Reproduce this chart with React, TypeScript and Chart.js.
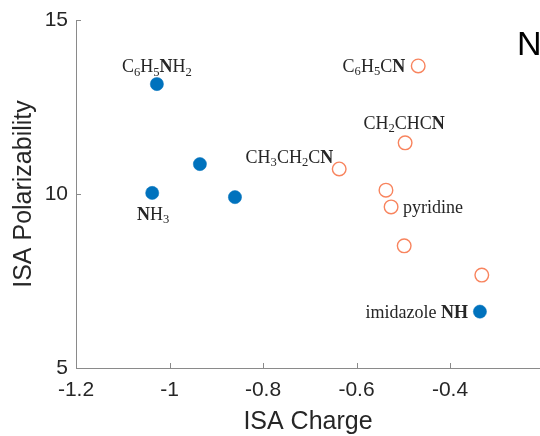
import { useEffect, useRef } from "react";
import { Chart, registerables } from "chart.js";

Chart.register(...registerables);

// Amine-type nitrogens (filled markers)
const amineCharge = [-1.027, -0.935, -1.037, -0.86, -0.336];
const aminePolar = [13.16, 10.86, 10.03, 9.91, 6.62];
const amineLabels = ["C_6H_5*N*H_2", "", "*N*H_3", "", "imidazole *NH*"];

// Nitrile / aromatic nitrogens (open markers)
const nitrileCharge = [-0.468, -0.496, -0.637, -0.537, -0.526, -0.498, -0.332];
const nitrilePolar = [13.68, 11.47, 10.72, 10.11, 9.63, 8.51, 7.67];
const nitrileLabels = ["C_6H_5C*N*", "CH_2CHC*N*", "CH_3CH_2C*N*", "", "pyridine", "", ""];

const xTicks = [-1.2, -1, -0.8, -0.6, -0.4];
const yTicks = [5, 10, 15];
const xRange = [-1.2, -0.2075];
const yRange = [5, 15];

const xTitle = "ISA Charge";
const yTitle = "ISA Polarizability";
const panelTag = "N";

// Where each annotation sits relative to its marker (pixels)
type Placement = { dx: number; dy: number; align: "left" | "center" | "right" };
const placements: Record<string, Placement> = {
  "C_6H_5*N*H_2": { dx: 0, dy: -18, align: "center" },
  "*N*H_3": { dx: 1, dy: 21, align: "center" },
  "imidazole *NH*": { dx: -12, dy: 0, align: "right" },
  "C_6H_5C*N*": { dx: -13, dy: 0, align: "right" },
  "CH_2CHC*N*": { dx: -1, dy: -20, align: "center" },
  "CH_3CH_2C*N*": { dx: -6, dy: -12, align: "right" },
  pyridine: { dx: 12, dy: 0, align: "left" },
};

const BLUE = "#0072BD";
const ORANGE = "#F8845E";
const AXIS = "#8a8a8a";
const TEXT = "#262626";
const SANS = "'Liberation Sans', Arial, Helvetica, sans-serif";
const SERIF = "'Liberation Serif', 'Times New Roman', serif";
const LABEL_SIZE = 18;

type Seg = { t: string; sub: boolean; bold: boolean };

function parseMarkup(s: string): Seg[] {
  const segs: Seg[] = [];
  let bold = false;
  for (let i = 0; i < s.length; i++) {
    const c = s[i];
    if (c === "*") {
      bold = !bold;
      continue;
    }
    if (c === "_") {
      segs.push({ t: s[i + 1], sub: true, bold });
      i++;
      continue;
    }
    const last = segs[segs.length - 1];
    if (last && !last.sub && last.bold === bold) last.t += c;
    else segs.push({ t: c, sub: false, bold });
  }
  return segs;
}

function segFont(seg: Seg) {
  const size = seg.sub ? LABEL_SIZE * 0.7 : LABEL_SIZE;
  return `${seg.bold ? "bold " : ""}${size}px ${SERIF}`;
}

const annotationPlugin = {
  id: "annotations",
  afterDatasetsDraw(chart: any) {
    const ctx = chart.ctx as CanvasRenderingContext2D;
    const groups = [amineLabels, nitrileLabels];
    ctx.save();
    ctx.fillStyle = TEXT;
    ctx.textBaseline = "alphabetic";
    ctx.textAlign = "left";
    groups.forEach((labels, di) => {
      const meta = chart.getDatasetMeta(di);
      labels.forEach((label, pi) => {
        if (!label) return;
        const el = meta.data[pi];
        const p = placements[label] || { dx: 10, dy: 0, align: "left" };
        const segs = parseMarkup(label);
        let width = 0;
        const widths = segs.map((s) => {
          ctx.font = segFont(s);
          const w = ctx.measureText(s.t).width;
          width += w;
          return w;
        });
        let x = el.x + p.dx;
        if (p.align === "center") x -= width / 2;
        else if (p.align === "right") x -= width;
        const baseline = el.y + p.dy + LABEL_SIZE * 0.33;
        segs.forEach((s, k) => {
          ctx.font = segFont(s);
          ctx.fillText(s.t, x, s.sub ? baseline + LABEL_SIZE * 0.2 : baseline);
          x += widths[k];
        });
      });
    });
    ctx.font = `34px ${SANS}`;
    ctx.fillStyle = "#000";
    ctx.fillText(panelTag, 517, 55);
    ctx.restore();
  },
};

// Inward-pointing tick marks along both axes
const innerTicksPlugin = {
  id: "innerTicks",
  afterDraw(chart: any) {
    const ctx = chart.ctx as CanvasRenderingContext2D;
    const { x, y } = chart.scales;
    const area = chart.chartArea;
    ctx.save();
    ctx.strokeStyle = AXIS;
    ctx.lineWidth = 1;
    ctx.beginPath();
    x.ticks.forEach((t: any) => {
      const px = Math.round(x.getPixelForValue(t.value)) + 0.5;
      ctx.moveTo(px, area.bottom);
      ctx.lineTo(px, area.bottom - 5);
    });
    y.ticks.forEach((t: any) => {
      const py = Math.round(y.getPixelForValue(t.value)) + 0.5;
      ctx.moveTo(area.left, py);
      ctx.lineTo(area.left + 5, py);
    });
    ctx.stroke();
    ctx.restore();
  },
};

const fmt = (v: number) => String(Math.round(v * 10) / 10);

export default function App() {
  const canvasRef = useRef<HTMLCanvasElement | null>(null);

  useEffect(() => {
    const canvas = canvasRef.current;
    if (!canvas) return;
    const chart = new Chart(canvas, {
      type: "scatter",
      data: {
        datasets: [
          {
            data: amineCharge.map((c, i) => ({ x: c, y: aminePolar[i] })),
            pointRadius: 6.6,
            pointBackgroundColor: BLUE,
            pointBorderColor: BLUE,
            pointBorderWidth: 0.5,
          },
          {
            data: nitrileCharge.map((c, i) => ({ x: c, y: nitrilePolar[i] })),
            pointRadius: 6.8,
            pointBackgroundColor: "rgba(255,255,255,0)",
            pointBorderColor: ORANGE,
            pointBorderWidth: 1.4,
          },
        ],
      },
      options: {
        responsive: false,
        animation: false,
        devicePixelRatio: 1,
        layout: { autoPadding: false, padding: { top: 20, right: 0, left: 0, bottom: 0 } },
        plugins: { legend: { display: false }, tooltip: { enabled: false } },
        scales: {
          x: {
            type: "linear",
            min: xRange[0],
            max: xRange[1],
            afterBuildTicks: (s: any) => {
              s.ticks = xTicks.map((v) => ({ value: v }));
            },
            afterFit: (s: any) => {
              s.height = 68;
              s.paddingLeft = 0;
              s.paddingRight = 0;
            },
            grid: { drawOnChartArea: false, drawTicks: false },
            border: { display: true, color: AXIS, width: 1 },
            ticks: {
              padding: 10,
              color: TEXT,
              font: { family: SANS, size: 21 },
              maxRotation: 0,
              callback: (v: any) => fmt(Number(v)),
            },
            title: {
              display: true,
              text: xTitle,
              color: TEXT,
              font: { family: SANS, size: 25, lineHeight: 1 },
              padding: { top: 0, bottom: 1 },
            },
          },
          y: {
            type: "linear",
            min: yRange[0],
            max: yRange[1],
            afterBuildTicks: (s: any) => {
              s.ticks = yTicks.map((v) => ({ value: v }));
            },
            afterFit: (s: any) => {
              s.width = 76;
              s.paddingTop = 0;
              s.paddingBottom = 0;
            },
            grid: { drawOnChartArea: false, drawTicks: false },
            border: { display: true, color: AXIS, width: 1 },
            ticks: {
              padding: 8,
              color: TEXT,
              font: { family: SANS, size: 21 },
              callback: (v: any) => fmt(Number(v)),
            },
            title: {
              display: true,
              text: yTitle,
              color: TEXT,
              font: { family: SANS, size: 25, lineHeight: 1 },
              padding: { top: 12, bottom: 0 },
            },
          },
        },
      },
      plugins: [annotationPlugin, innerTicksPlugin],
    } as any);
    return () => chart.destroy();
  }, []);

  return (
    <div
      style={{
        position: "fixed",
        left: 0,
        top: 0,
        width: 540,
        height: 436,
        background: "#fff",
      }}
    >
      <canvas ref={canvasRef} width={540} height={436} style={{ display: "block" }} />
    </div>
  );
}
